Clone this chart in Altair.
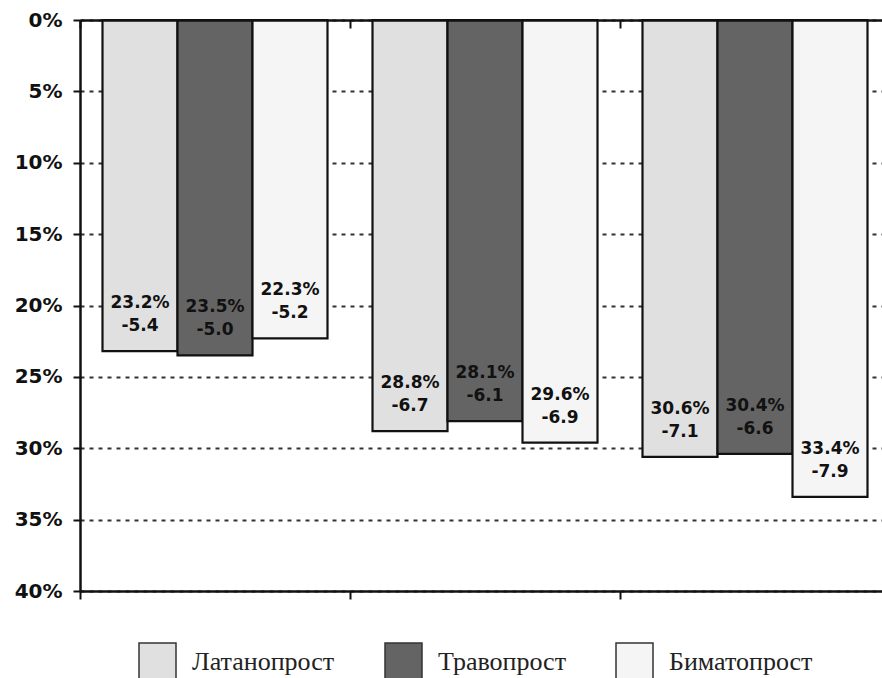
import altair as alt
import pandas as pd

groups = ["Группа 1", "Группа 2", "Группа 3"]
drugs = ["Латанопрост", "Травопрост", "Биматопрост"]
colors = ["#e0e0e0", "#646464", "#f5f5f5"]
reduction_pct = [23.2, 23.5, 22.3, 28.8, 28.1, 29.6, 30.6, 30.4, 33.4]
reduction_mmhg = [-5.4, -5.0, -5.2, -6.7, -6.1, -6.9, -7.1, -6.6, -7.9]
y_ticks = [0, 5, 10, 15, 20, 25, 30, 35, 40]

rows = []
i = 0
for g in groups:
    for d in drugs:
        rows.append({
            "group": g,
            "drug": d,
            "pct": reduction_pct[i],
            "mmhg": reduction_mmhg[i],
            "l1": f"{reduction_pct[i]:.1f}%",
            "l2": f"{reduction_mmhg[i]:.1f}",
        })
        i += 1
df = pd.DataFrame(rows)

W, H = 802, 571

xscale = alt.Scale(range=[0, 810], paddingInner=0, paddingOuter=0)
xo = alt.XOffset("drug:N", sort=drugs, scale=alt.Scale(paddingInner=0, paddingOuter=0.3))
yaxis = alt.Axis(
    values=y_ticks, labelExpr="datum.value + '%'", title=None,
    labelFont="DejaVu Sans", labelFontWeight="bold", labelFontSize=20, labelColor="#111",
    labelPadding=11, tickSize=7, tickWidth=2, tickColor="#111",
    domainColor="#111", domainWidth=2.5,
    grid=True, gridDash=[4, 5], gridColor="#333", gridWidth=2,
)
y = alt.Y("pct:Q", scale=alt.Scale(domain=[0, 40], reverse=True, nice=False), axis=yaxis)

bottom_axis = alt.Axis(
    orient="bottom", title=None, labels=False, bandPosition=0,
    tickSize=8, tickWidth=2, tickColor="#111", domainColor="#111", domainWidth=2.5, grid=False,
)
top_axis = alt.Axis(
    orient="top", title=None, labels=False, bandPosition=0, ticks=True,
    tickSize={"expr": "-8"}, tickWidth=2, tickColor="#111",
    domainColor="#111", domainWidth=2.5, grid=False, zindex=5,
)

base = alt.Chart(df)

bars = base.mark_bar(stroke="#111", strokeWidth=2.2).encode(
    x=alt.X("group:N", sort=groups, scale=xscale, axis=bottom_axis),
    xOffset=xo,
    y=y,
    fill=alt.Fill(
        "drug:N", sort=drugs, scale=alt.Scale(domain=drugs, range=colors),
        legend=alt.Legend(
            orient="none", legendX=58, legendY=622, direction="horizontal", title=None,
            symbolType="square", symbolSize=1369, symbolStrokeColor="#333", symbolStrokeWidth=1.5,
            symbolOpacity=1,
            labelFont="Liberation Serif", labelFontSize=26, labelColor="#222",
            labelOffset=15, columnPadding=47, padding=0, labelLimit=400,
        ),
    ),
)

text1 = base.mark_text(
    baseline="alphabetic", dy=-43, font="DejaVu Sans", fontWeight="bold", fontSize=17, color="#111"
).encode(
    x=alt.X("group:N", sort=groups, scale=xscale, axis=top_axis),
    xOffset=xo,
    y=y,
    text="l1:N",
)

text2 = base.mark_text(
    baseline="alphabetic", dy=-20, font="DejaVu Sans", fontWeight="bold", fontSize=17, color="#111"
).encode(
    x=alt.X("group:N", sort=groups, scale=xscale, axis=None),
    xOffset=xo,
    y=y,
    text="l2:N",
)

chart = (
    alt.layer(bars, text1, text2)
    .resolve_axis(x="independent")
    .properties(
        width=W, height=H,
        autosize=alt.AutoSizeParams(type="none"),
        padding={"left": 80, "top": 20, "right": 0, "bottom": 87},
        background="white",
    )
    .configure_view(stroke=None)
)

chart.save("out.html", embed_options={"renderer": "svg", "actions": False})
